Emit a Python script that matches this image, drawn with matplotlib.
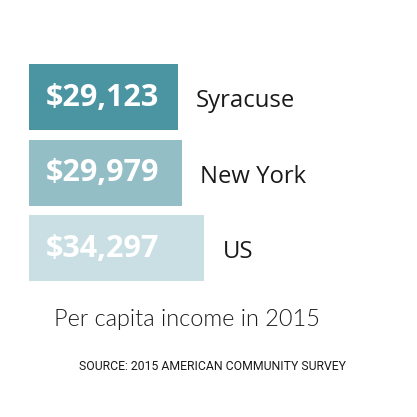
import matplotlib
matplotlib.use("Agg")
import matplotlib.pyplot as plt
import numpy as np

# data
places = ["Syracuse", "New York", "US"]
income = [29123, 29979, 34297]
value_labels = ["$29,123", "$29,979", "$34,297"]
bar_colors = ["#4b94a1", "#94bec6", "#c9dfe4"]
title = "Per capita income in 2015"
source = "SOURCE: 2015 AMERICAN COMMUNITY SURVEY"

W = 417
fig = plt.figure(figsize=(W / 100, W / 100), dpi=100)
ax = fig.add_axes([0, 0, 1, 1])

# pixel scale: $34,297 -> 175 px, zero at x=29
k = max(income) / 175.0
ax.set_xlim(-29 * k, (W - 29) * k)
step = 75.55
ax.set_ylim((W - 97.2) / step, -97.2 / step)
ax.axis("off")

ypos = np.arange(len(places))
ax.barh(ypos, income, height=66 / step, color=bar_colors)

for i in range(len(places)):
    ax.text(17 * k, ypos[i] + 8.5 / step, value_labels[i], color="white",
            fontsize=22, fontweight="bold", family="Open Sans",
            va="baseline", ha="left")
    ax.text(income[i] + 18.5 * k, ypos[i] + 10 / step, places[i],
            color="#1a1a1a", fontsize=17.2, family="Open Sans",
            va="baseline", ha="left")

fig.text(54 / W, 1 - 319 / W, title, fontsize=16.9, family="Lato",
         fontweight=300, color="#1a1a1a", va="center", ha="left")
fig.text(79 / W, 1 - 367 / W, source, fontsize=8.8,
         family="Roboto", color="#1a1a1a", va="center", ha="left")

fig.savefig("out.png", dpi=100)
